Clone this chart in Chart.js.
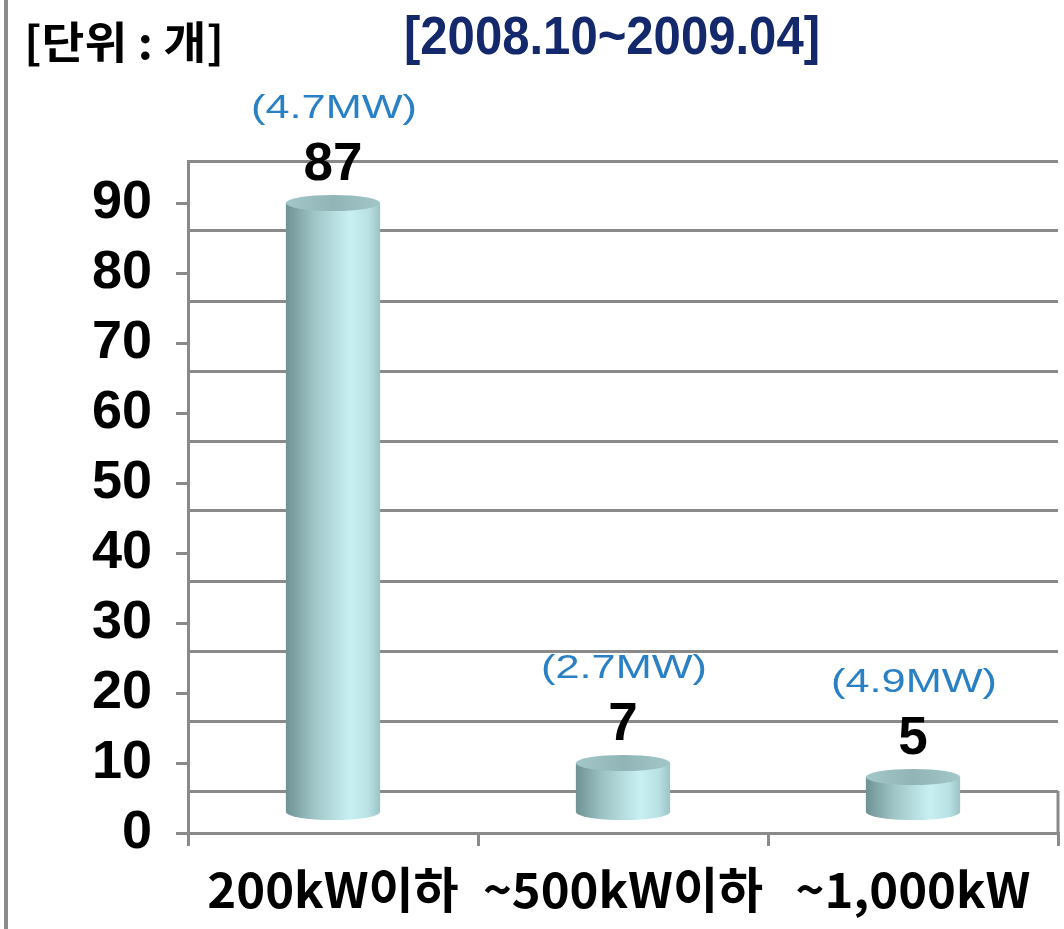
<!DOCTYPE html>
<html>
<head>
<meta charset="utf-8">
<script src="https://cdn.jsdelivr.net/npm/chart.js@4"></script>
<style>
  body { margin: 0; background: #fff; }
  #wrap { width: 1064px; height: 929px; }
</style>
</head>
<body>
<div id="wrap"><canvas id="plantChart" width="1064" height="929"></canvas></div>
<script>
// data
const categories = ['200kW이하', '~500kW이하', '~1,000kW'];
const plantCounts = [87, 7, 5];
const capacityLabels = ['(4.7MW)', '(2.7MW)', '(4.9MW)'];
const yTicks = [0, 10, 20, 30, 40, 50, 60, 70, 80, 90];

const lineGray = '#8a8a8a';
const boldFont = '"Liberation Sans", "Noto Sans CJK KR", sans-serif';
const krFont = '"Noto Sans CJK KR", sans-serif';

// draws text squeezed or stretched to a given width
function fitText(ctx, text, cx, cy, width) {
  const w = ctx.measureText(text).width;
  ctx.save();
  ctx.translate(cx, cy);
  ctx.scale(width / w, 1);
  ctx.fillText(text, 0, 0);
  ctx.restore();
}

// cylinders, value labels, titles and frame
const cylinderPlugin = {
  id: 'cylinders',
  afterDatasetsDraw(chart) {
    const ctx = chart.ctx;
    const meta = chart.getDatasetMeta(0);
    const area = chart.chartArea;
    const gridScale = chart.scales.yGrid;

    ctx.save();
    // back wall right edge
    ctx.strokeStyle = lineGray;
    ctx.lineWidth = 3;
    ctx.beginPath();
    ctx.moveTo(area.right, gridScale.getPixelForValue(0));
    ctx.lineTo(area.right, area.bottom);
    ctx.stroke();

    meta.data.forEach((bar, i) => {
      const x = bar.x, top = bar.y, base = bar.base;
      const rx = bar.width / 2, ry = 8;

      const body = ctx.createLinearGradient(x - rx, 0, x + rx, 0);
      body.addColorStop(0, '#6f9395');
      body.addColorStop(0.3, '#a0c5c7');
      body.addColorStop(0.68, '#c8f0f3');
      body.addColorStop(0.88, '#b8e1e4');
      body.addColorStop(1, '#9cc3c6');
      ctx.fillStyle = body;
      ctx.beginPath();
      ctx.moveTo(x - rx, top);
      ctx.lineTo(x - rx, base);
      ctx.ellipse(x, base, rx, ry, 0, Math.PI, 0, true);
      ctx.lineTo(x + rx, top);
      ctx.closePath();
      ctx.fill();

      const cap = ctx.createLinearGradient(x - rx, 0, x + rx, 0);
      cap.addColorStop(0, '#a4c7c9');
      cap.addColorStop(0.5, '#91b5b7');
      cap.addColorStop(1, '#a3c6c8');
      ctx.fillStyle = cap;
      ctx.beginPath();
      ctx.ellipse(x, top, rx, ry, 0, 0, Math.PI * 2);
      ctx.fill();

      // value label
      ctx.fillStyle = '#000';
      ctx.font = 'bold 53px ' + boldFont;
      ctx.textAlign = 'center';
      ctx.textBaseline = 'middle';
      ctx.fillText(String(plantCounts[i]), x, top - 38);

      // capacity label
      ctx.fillStyle = '#2a80c4';
      ctx.font = '34px "Liberation Sans", sans-serif';
      fitText(ctx, capacityLabels[i], x + 1, top - 94, 166);
    });

    // titles
    ctx.textBaseline = 'middle';
    ctx.textAlign = 'center';
    ctx.fillStyle = '#000';
    ctx.font = 'bold 44px ' + krFont;
    fitText(ctx, '[단위 : 개]', 124, 42, 200);
    ctx.fillStyle = '#13296b';
    ctx.font = 'bold 53px ' + boldFont;
    fitText(ctx, '[2008.10~2009.04]', 612, 39, 416);

    // left frame line
    ctx.strokeStyle = '#8c8c8c';
    ctx.lineWidth = 4;
    ctx.beginPath();
    ctx.moveTo(6, 0);
    ctx.lineTo(6, chart.height);
    ctx.stroke();
    ctx.restore();
  }
};

window.addEventListener('DOMContentLoaded', () => {
  const ctx = document.getElementById('plantChart').getContext('2d');
  new Chart(ctx, {
    type: 'bar',
    data: {
      labels: categories,
      datasets: [{
        label: '개수',
        data: plantCounts,
        backgroundColor: 'rgba(0,0,0,0)',
        borderWidth: 0,
        categoryPercentage: 1,
        barPercentage: 0.325,
        yAxisID: 'y'
      }]
    },
    options: {
      responsive: false,
      animation: false,
      events: [],
      layout: { padding: { top: 161, right: 6, left: 0, bottom: 0 } },
      plugins: {
        legend: { display: false },
        title: { display: false },
        tooltip: { enabled: false }
      },
      scales: {
        x: {
          offset: true,
          grid: { display: true, drawOnChartArea: false, drawTicks: true, tickLength: 13, color: lineGray, lineWidth: 3, offset: true },
          border: { display: true, color: lineGray, width: 3 },
          ticks: {
            color: '#000', padding: 14, autoSkip: false, maxRotation: 0, minRotation: 0,
            font: { family: krFont, size: 49, weight: 'bold', lineHeight: 1.2 }
          },
          afterFit: (s) => { s.height = 96; }
        },
        y: {
          display: false,
          min: -3,
          max: 93
        },
        yLabel: {
          position: 'left',
          min: 0,
          max: 96,
          afterBuildTicks: (s) => { s.ticks = yTicks.map(v => ({ value: v })); },
          grid: { drawOnChartArea: false, drawTicks: true, tickLength: 12, color: lineGray, lineWidth: 3 },
          border: { display: true, color: lineGray, width: 3 },
          ticks: { color: '#000', padding: 24, font: { family: boldFont, size: 54, weight: 'bold' } },
          afterFit: (s) => { s.width = 188; }
        },
        yGrid: {
          position: 'right',
          min: -6,
          max: 90,
          afterBuildTicks: (s) => { s.ticks = yTicks.map(v => ({ value: v })); },
          grid: { drawOnChartArea: true, drawTicks: false, color: lineGray, lineWidth: 3 },
          border: { display: false },
          ticks: { display: false },
          afterFit: (s) => { s.width = 0; }
        }
      }
    },
    plugins: [cylinderPlugin]
  });
});
</script>
</body>
</html>
